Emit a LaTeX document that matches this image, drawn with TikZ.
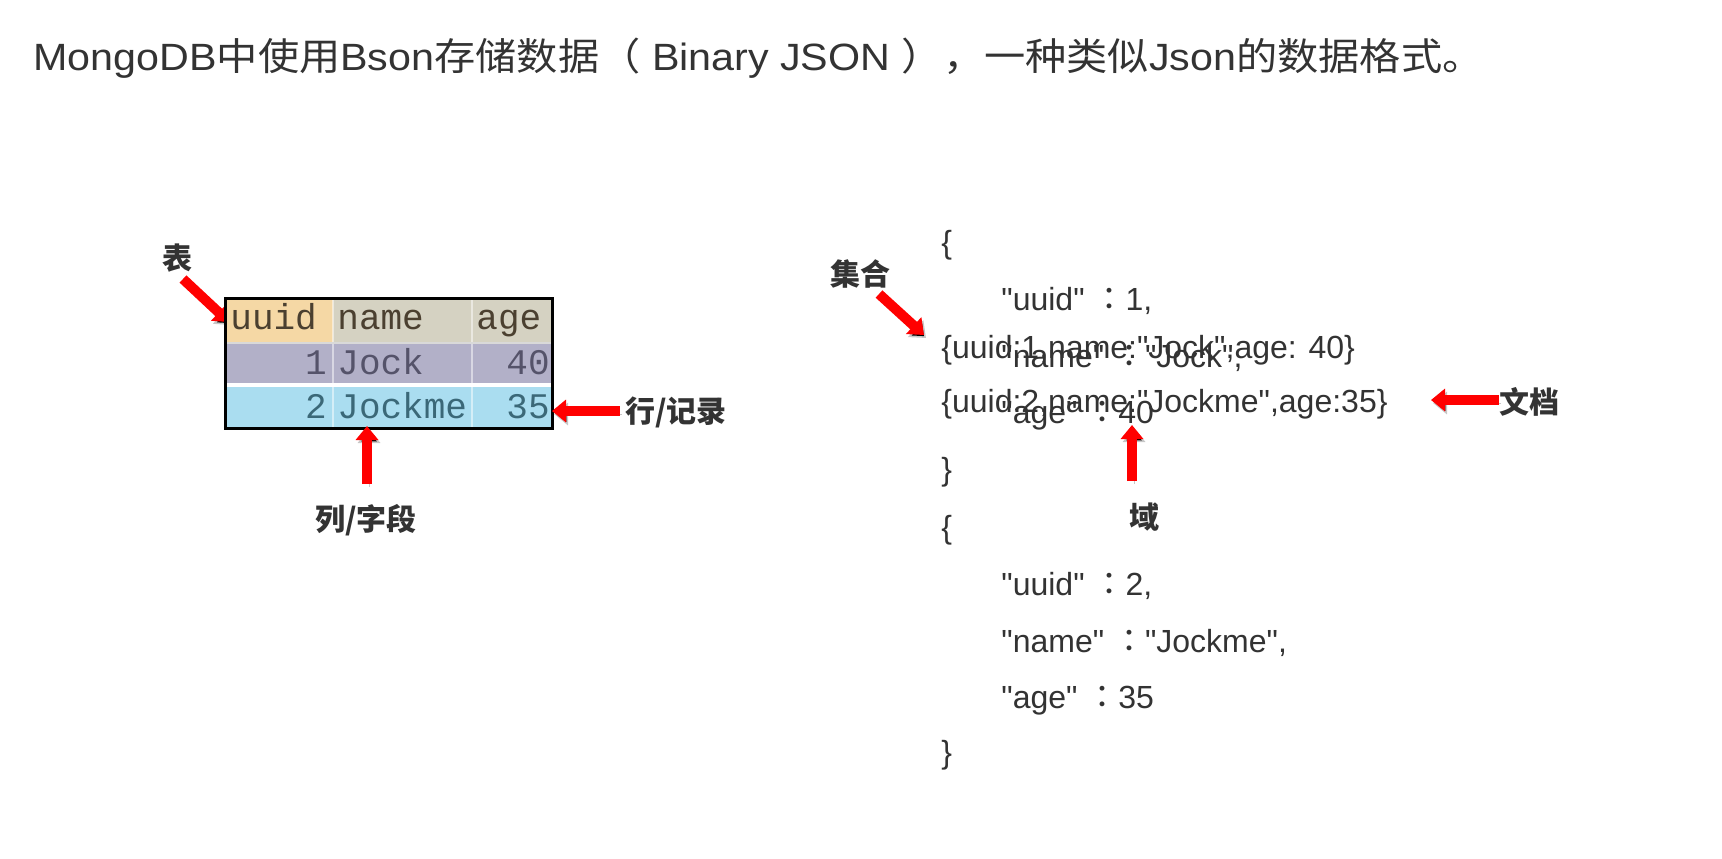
\documentclass[tikz,border=0pt]{standalone}
\usepackage{fontspec}
\setmainfont{Liberation Sans}
\newfontfamily\cjk{Noto Sans CJK SC}
\newfontfamily\cjkc{Noto Sans CJK TC}
\newfontfamily\jsonfont{Liberation Sans}
\newfontfamily\monofont{Liberation Mono}
\usetikzlibrary{arrows.meta,positioning}

\definecolor{txt}{HTML}{333333}
\definecolor{arrowred}{HTML}{FF0000}
\definecolor{hdA}{HTML}{F5D8A5}
\definecolor{hdB}{HTML}{D5D2C2}
\definecolor{rowA}{HTML}{B2B0C8}
\definecolor{rowB}{HTML}{AADDF0}
\definecolor{hdtxt}{HTML}{4B4030}
\definecolor{rowAtxt}{HTML}{55536A}
\definecolor{rowBtxt}{HTML}{3B6878}

\newcommand{\jcolon}{{\cjkc ：}}

\tikzset{
	jsontext/.style={anchor=base west, inner sep=0pt, text=txt, font=\jsonfont\fontsize{16}{18}\selectfont},
	tag/.style={inner sep=0pt, text=txt, font=\cjk\bfseries\fontsize{15}{17}\selectfont},
	cellfont/.style={anchor=base west, inner sep=0pt, font=\monofont\fontsize{18}{20}\selectfont},
	redarrow/.style={draw=arrowred, line width=5pt, -{Triangle[width=11pt,length=7pt]},
		preaction={draw=black, draw opacity=0.22, transform canvas={shift={(1pt,-1.5pt)}}}}
}

\begin{document}
\begin{tikzpicture}[x=0.5pt, y=-0.5pt]
		\useasboundingbox[fill=white] (0,0) rectangle (1722,858);

		\node[anchor=base west, inner sep=0pt, text=txt, font=\fontsize{19}{21}\selectfont, xscale=1.085, transform shape] (title) at (33,70)
			{MongoDB{\cjk 中使用}Bson{\cjk 存储数据（} Binary JSON {\cjk ），一种类似}Json{\cjk 的数据格式。}};

		\node[tag] (biao) at (177,258) {表};
		\coordinate (biaoS) at (183,279);
		\coordinate (biaoT) at (229,322);
		\draw[redarrow] (biaoS) -- (biaoT);

		\fill[hdA] (225,298) rectangle (333,343);
		\fill[hdB] (333,298) rectangle (552,343);
		\fill[rowA] (225,343) rectangle (552,383);
		\fill[rowB] (225,387) rectangle (552,427);
		\foreach \xs in {333,472}
			\draw[white, opacity=0.5, line width=1pt] (\xs,298) -- (\xs,427);
		\draw[black!15, line width=1pt] (225,343) -- (552,343);
		\draw[line width=1.5pt] (225,298) rectangle (552,428);

		\node[cellfont, text=hdtxt] (huuid) at (230,329) {uuid};
		\node[cellfont, text=hdtxt] (hname) at (337,329) {name};
		\node[cellfont, text=hdtxt] (hage) at (476,329) {age};
		\node[cellfont, text=rowAtxt, anchor=base east] (uidA) at (327,374) {1};
		\node[cellfont, text=rowAtxt] (nameA) at (337,374) {Jock};
		\node[cellfont, text=rowAtxt, anchor=base east] (ageA) at (550,374) {40};
		\node[cellfont, text=rowBtxt, anchor=base east] (uidB) at (327,418) {2};
		\node[cellfont, text=rowBtxt] (nameB) at (337,418) {Jockme};
		\node[cellfont, text=rowBtxt, anchor=base east] (ageB) at (550,418) {35};

		\node[tag] (hang) at (676,412) {行/记录};
		\coordinate (hangS) at (620,411);
		\coordinate (hangT) at (552,411);
		\draw[redarrow] (hangS) -- (hangT);

		\node[tag] (lie) at (366,520) {列/字段};
		\coordinate (lieS) at (367,484);
		\coordinate (lieT) at (367,426);
		\draw[redarrow] (lieS) -- (lieT);

		\node[jsontext] (openA) at (941,253) {\{};
		\node[jsontext] (uuidA) at (1001,310) {"uuid" \jcolon1,};
		\node[jsontext] (nameJ) at (1001,367) {"name" \jcolon"Jock",};
		\node[jsontext] (ageJ) at (1001,423) {"age" \jcolon40};
		\node[jsontext] (closeA) at (941,480) {\}};
		\node[jsontext] (docA) at (941,358) {\{uuid:1,name:"Jock",age: 40\}};
		\node[jsontext] (docB) at (941,412) {\{uuid:2,name:"Jockme",age:35\}};
		\node[jsontext] (openB) at (941,538) {\{};
		\node[jsontext] (uuidB) at (1001,595) {"uuid" \jcolon2,};
		\node[jsontext] (nameK) at (1001,652) {"name" \jcolon"Jockme",};
		\node[jsontext] (ageK) at (1001,708) {"age" \jcolon35};
		\node[jsontext] (closeB) at (941,763) {\}};

		\node[tag] (jihe) at (860,274) {集合};
		\coordinate (jiheS) at (879,294);
		\coordinate (jiheT) at (924,335);
		\draw[redarrow] (jiheS) -- (jiheT);

		\node[tag] (yu) at (1144,517) {域};
		\coordinate (yuS) at (1132,481);
		\coordinate (yuT) at (1132,425);
		\draw[redarrow] (yuS) -- (yuT);

		\node[tag] (wendang) at (1529,402) {文档};
		\coordinate (wendangS) at (1499,400);
		\coordinate (wendangT) at (1431,400);
		\draw[redarrow] (wendangS) -- (wendangT);

	\end{tikzpicture}
\end{document}
